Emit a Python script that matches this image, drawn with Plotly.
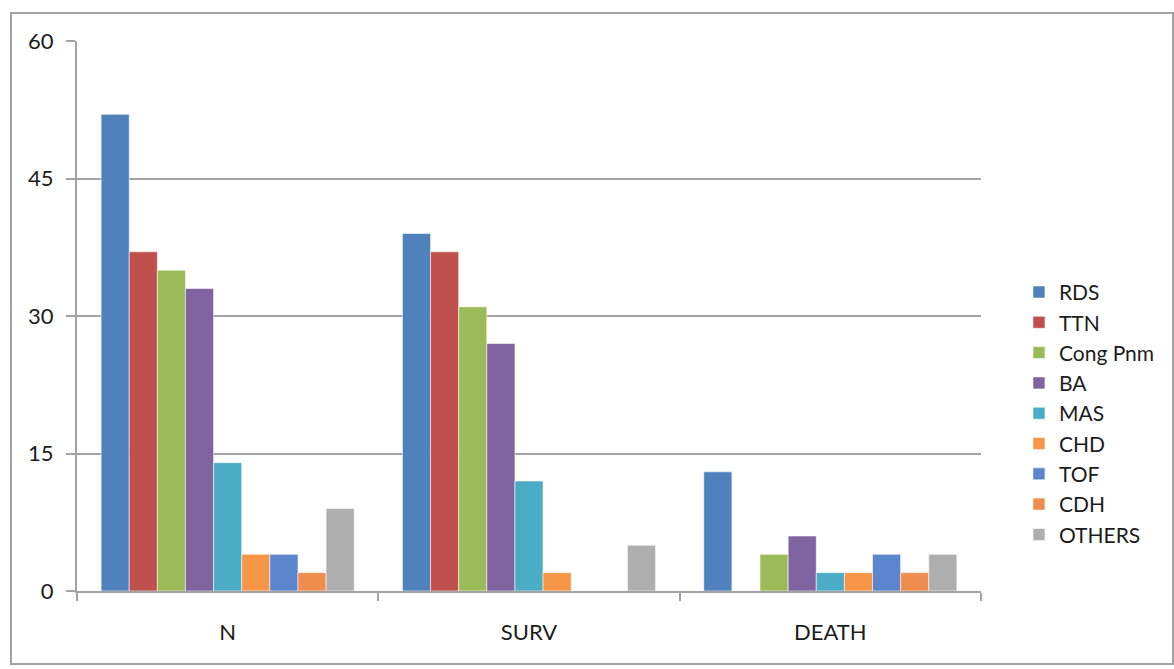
import plotly.graph_objects as go

# Outcome counts per diagnosis
groups = ["N", "SURV", "DEATH"]
diagnoses = ["RDS", "TTN", "Cong Pnm", "BA", "MAS", "CHD", "TOF", "CDH", "OTHERS"]
rds = [52, 39, 13]
ttn = [37, 37, 0]
cong_pnm = [35, 31, 4]
ba = [33, 27, 6]
mas = [14, 12, 2]
chd = [4, 2, 2]
tof = [4, 0, 4]
cdh = [2, 0, 2]
others = [9, 5, 4]
y_ticks = [0, 15, 30, 45, 60]

series = [rds, ttn, cong_pnm, ba, mas, chd, tof, cdh, others]
colors = ["#4F81BD", "#C0504D", "#9BBB59", "#8064A2", "#4BACC6",
          "#F79646", "#5B86CD", "#EE8D4E", "#AEAEAE"]

FONT = "Lato"
TEXT = "#1c1c1c"
GRID = "#a3a3a3"

fig = go.Figure()
for name, vals, col in zip(diagnoses, series, colors):
    fig.add_trace(go.Bar(
        x=groups, y=vals, name=name,
        marker=dict(color=col, line=dict(color="rgba(255,255,255,0.55)", width=1)),
    ))

W, H = 1174, 669
L, R, T, B = 77, 981, 41, 591

fig.update_layout(
    width=W, height=H,
    margin=dict(l=L, r=W - R, t=T, b=H - B, pad=0),
    paper_bgcolor="white", plot_bgcolor="white",
    barmode="group", bargap=0.16, bargroupgap=0,
    font=dict(family=FONT, size=22, color=TEXT),
    showlegend=True,
    legend=dict(
        x=1.042, y=0.323, xanchor="left", yanchor="middle",
        traceorder="normal",
        font=dict(family=FONT, size=21, color=TEXT),
        itemwidth=30, bgcolor="rgba(0,0,0,0)",
    ),
    xaxis=dict(
        type="category", showgrid=False, showline=True,
        linecolor=GRID, linewidth=2,
        ticks="outside", tickson="boundaries", ticklen=8,
        tickcolor=GRID, tickwidth=2,
        ticklabelstandoff=21,
        tickfont=dict(family=FONT, size=22, color=TEXT),
    ),
    yaxis=dict(
        range=[0, 60], tickvals=y_ticks, ticktext=[str(v) for v in y_ticks],
        showgrid=True, gridcolor=GRID, gridwidth=2,
        showline=True, linecolor=GRID, linewidth=2,
        ticks="outside", ticklen=9, tickcolor=GRID, tickwidth=2,
        ticklabelstandoff=8, zeroline=False,
        tickfont=dict(family=FONT, size=22, color=TEXT),
    ),
)

# Chart-area frame around everything
pw, ph = R - L, B - T
fig.add_shape(
    type="rect", xref="paper", yref="paper",
    x0=(11 - L) / pw, x1=(1173 - L) / pw,
    y0=(B - 664) / ph, y1=(B - 13) / ph,
    line=dict(color=GRID, width=2), fillcolor="rgba(0,0,0,0)", layer="below",
)

fig.write_html("out.html")
